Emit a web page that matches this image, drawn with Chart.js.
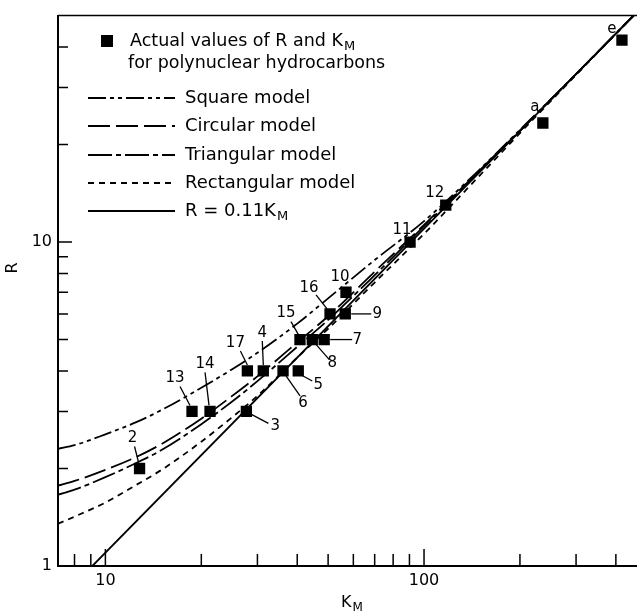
<!DOCTYPE html>
<html lang="en">
<head>
    <meta charset="UTF-8">
    <title>R vs K_M for polynuclear hydrocarbons</title>
    <style>
        body {
            margin: 0;
            background: #fff;
        }
        #chart {
            display: block;
        }
    </style>
</head>
<body>
    <canvas id="chart" width="637" height="614"></canvas>
    <script src="https://cdn.jsdelivr.net/npm/chart.js"></script>
    <script>
        // measured points (K_M, R) and their labels
        const pointLabels = ['2', '3', '4', '5', '6', '7', '8', '9', '10', '11', '12', '13', '14', '15', '16', '17', 'a', 'e'];
        const pointK = [12.8, 27.7, 31.3, 40.3, 36.1, 48.6, 44.6, 56.6, 56.9, 90.4, 117, 18.7, 21.3, 40.8, 50.7, 27.9, 236, 418];
        const pointR = [2, 3, 4, 4, 4, 5, 5, 6, 7, 10, 13, 3, 3, 5, 6, 4, 23.3, 42];

        // model curves
        const curveK = [7.1, 8, 10, 12.5, 15, 20, 25, 30, 40, 50, 70, 100, 150, 200, 300, 470];
        const squareR = [2.30, 2.36, 2.55, 2.78, 3.03, 3.55, 4.05, 4.55, 5.6, 6.7, 8.8, 11.6, 16.8, 22.2, 33, 51.7];
        const circularR = [1.77, 1.83, 1.98, 2.17, 2.38, 2.85, 3.35, 3.85, 4.9, 5.9, 8.1, 11.3, 16.7, 22.1, 33, 51.7];
        const triangularR = [1.66, 1.72, 1.88, 2.08, 2.28, 2.74, 3.22, 3.72, 4.75, 5.75, 7.9, 11.2, 16.6, 22.05, 33, 51.7];
        const rectangularR = [1.35, 1.42, 1.57, 1.78, 1.98, 2.42, 2.88, 3.35, 4.4, 5.4, 7.5, 10.6, 16.1, 21.7, 32.8, 51.7];
        // straight line R = 0.11 K_M, end points
        const lineK = [9.1, 470];
        const lineR = [1.0, 51.7];

        const xTickLabels = [10, 100];
        const yTickLabels = [1, 10];
        const xMinorTicks = [8, 9, 20, 30, 40, 50, 60, 70, 80, 90, 200, 300, 400];
        const yMinorTicks = [2, 3, 4, 5, 6, 7, 8, 9, 20, 30, 40];

        const FONT = '"DejaVu Sans", sans-serif';

        // where each point label sits: [dx, dy, leader from dx,dy, leader to dx,dy]
        const labelPlace = {
            '2': [-7, -30, -5, -22, -1, -6],
            '3': [29, 15, 5, 3, 22, 12],
            '4': [-1, -38, -1, -30, 0, -6],
            '5': [20, 14, 3, 4, 14, 10],
            '6': [20, 32, 3, 5, 17, 25],
            '7': [33, 1, 6, 0, 28, 0],
            '8': [20, 24, 3, 4, 17, 20],
            '9': [32, 0, 6, 0, 26, 0],
            '10': [-6, -15],
            '11': [-8, -12],
            '12': [-11, -12],
            '13': [-17, -33, -12, -25, -2, -6],
            '14': [-5, -47, -5, -39, -1, -6],
            '15': [-14, -26, -9, -18, -1, -4],
            '16': [-21, -26, -14, -19, -3, -5],
            '17': [-12, -28, -7, -20, 0, -6],
            'a': [-8, -16],
            'e': [-10, -11]
        };

        function pairs(xs, ys) {
            return xs.map((v, i) => ({x: v, y: ys[i]}));
        }

        function curve(label, ys, dash) {
            return {
                type: 'line',
                label: label,
                data: pairs(curveK, ys),
                borderColor: '#000',
                borderWidth: 1.8,
                borderDash: dash,
                pointRadius: 0,
                cubicInterpolationMode: 'monotone',
                fill: false
            };
        }

        // text with a subscript M, e.g. K_M
        function drawSub(ctx, base, sub, x, y, size) {
            ctx.font = size + 'px ' + FONT;
            ctx.fillText(base, x, y);
            const w = ctx.measureText(base).width;
            ctx.font = Math.round(size * 0.72) + 'px ' + FONT;
            ctx.fillText(sub, x + w + 1, y + size * 0.3);
            return w + 1 + ctx.measureText(sub).width;
        }

        const decorations = {
            id: 'decorations',
            afterDatasetsDraw(chart) {
                const {ctx, chartArea: area, scales: {x, y}} = chart;
                ctx.save();
                ctx.strokeStyle = '#000';
                ctx.fillStyle = '#000';
                ctx.lineWidth = 1.5;

                // top frame line
                ctx.beginPath();
                ctx.moveTo(area.left, area.top);
                ctx.lineTo(area.right, area.top);
                ctx.stroke();

                // inward tick marks
                ctx.beginPath();
                xMinorTicks.concat(xTickLabels).forEach(v => {
                    const px = x.getPixelForValue(v);
                    const len = xTickLabels.includes(v) ? 17 : 12;
                    ctx.moveTo(px, area.bottom);
                    ctx.lineTo(px, area.bottom - len);
                });
                yMinorTicks.concat(yTickLabels).forEach(v => {
                    const py = y.getPixelForValue(v);
                    const len = yTickLabels.includes(v) ? 14 : 10;
                    ctx.moveTo(area.left, py);
                    ctx.lineTo(area.left + len, py);
                });
                ctx.stroke();

                // point labels and leader lines
                const meta = chart.getDatasetMeta(chart.data.datasets.length - 1);
                ctx.font = '15px ' + FONT;
                ctx.textAlign = 'center';
                ctx.textBaseline = 'middle';
                ctx.lineWidth = 1.3;
                meta.data.forEach((pt, i) => {
                    const p = labelPlace[pointLabels[i]];
                    if (!p) return;
                    ctx.fillText(pointLabels[i], pt.x + p[0], pt.y + p[1]);
                    if (p.length > 2) {
                        ctx.beginPath();
                        ctx.moveTo(pt.x + p[2], pt.y + p[3]);
                        ctx.lineTo(pt.x + p[4], pt.y + p[5]);
                        ctx.stroke();
                    }
                });

                // axis titles
                ctx.textAlign = 'left';
                ctx.textBaseline = 'middle';
                drawSub(ctx, 'K', 'M', 341, 603, 16);
                ctx.save();
                ctx.translate(13, 268);
                ctx.rotate(-Math.PI / 2);
                ctx.textAlign = 'center';
                ctx.font = '16px ' + FONT;
                ctx.fillText('R', 0, 0);
                ctx.restore();

                // legend
                ctx.textAlign = 'left';
                ctx.fillRect(101, 35, 12, 12);
                drawSub(ctx, 'Actual values of R and K', 'M', 130, 41, 17.5);
                ctx.font = '17.5px ' + FONT;
                ctx.fillText('for polynuclear hydrocarbons', 128, 63);

                const rows = chart.data.datasets.slice(0, 5);
                const rowY = [98, 126, 155, 183, 211];
                rows.forEach((ds, i) => {
                    ctx.lineWidth = 1.8;
                    ctx.setLineDash(ds.borderDash || []);
                    ctx.beginPath();
                    ctx.moveTo(88, rowY[i]);
                    ctx.lineTo(175, rowY[i]);
                    ctx.stroke();
                    ctx.setLineDash([]);
                    if (ds.label.indexOf('K_M') >= 0) {
                        drawSub(ctx, 'R = 0.11K', 'M', 185, rowY[i], 18);
                    } else {
                        ctx.font = '18px ' + FONT;
                        ctx.fillText(ds.label, 185, rowY[i]);
                    }
                });
                ctx.restore();
            }
        };

        new Chart(document.getElementById('chart'), {
            type: 'scatter',
            data: {
                datasets: [
                    curve('Square model', squareR, [18, 4, 4, 4, 4, 4]),
                    curve('Circular model', circularR, [22, 6]),
                    curve('Triangular model', triangularR, [24, 4, 5, 4]),
                    curve('Rectangular model', rectangularR, [6, 5]),
                    {
                        type: 'line',
                        label: 'R = 0.11K_M',
                        data: pairs(lineK, lineR),
                        borderColor: '#000',
                        borderWidth: 1.8,
                        pointRadius: 0,
                        fill: false
                    },
                    {
                        label: 'Actual values of R and K_M for polynuclear hydrocarbons',
                        data: pairs(pointK, pointR),
                        pointStyle: 'rect',
                        pointRadius: 8,
                        backgroundColor: '#000',
                        borderColor: '#000',
                        borderWidth: 0
                    }
                ]
            },
            options: {
                responsive: false,
                animation: false,
                layout: {autoPadding: false, padding: {top: 14, right: 0, left: 0, bottom: 0}},
                plugins: {
                    legend: {display: false},
                    tooltip: {enabled: false}
                },
                scales: {
                    x: {
                        type: 'logarithmic',
                        min: 7.1,
                        max: 466,
                        afterFit: s => { s.height = 48; },
                        afterBuildTicks: s => { s.ticks = xTickLabels.map(v => ({value: v})); },
                        grid: {display: false, drawTicks: false},
                        border: {display: true, color: '#000', width: 2},
                        ticks: {
                            color: '#000',
                            font: {family: FONT, size: 16},
                            padding: 5,
                            maxRotation: 0,
                            callback: v => String(v)
                        }
                    },
                    y: {
                        type: 'logarithmic',
                        min: 1,
                        max: 50,
                        afterFit: s => { s.width = 58; },
                        afterBuildTicks: s => { s.ticks = yTickLabels.map(v => ({value: v})); },
                        grid: {display: false, drawTicks: false},
                        border: {display: true, color: '#000', width: 2},
                        ticks: {
                            color: '#000',
                            font: {family: FONT, size: 16},
                            padding: 6,
                            callback: v => String(v)
                        }
                    }
                }
            },
            plugins: [decorations]
        });
    </script>
</body>
</html>
